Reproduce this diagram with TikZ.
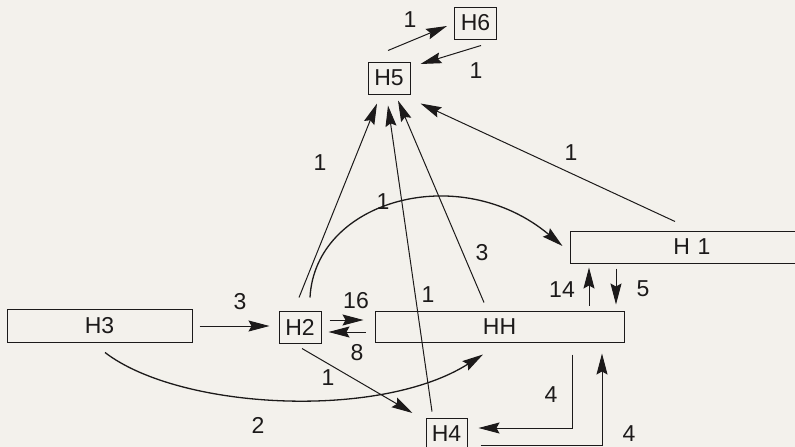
\documentclass[tikz,border=0pt]{standalone}
\usepackage{fontspec}
\setmainfont{Liberation Sans}
\usetikzlibrary{arrows.meta,calc}
\definecolor{paper}{HTML}{F3F1EC}
\definecolor{ink}{HTML}{1C1A1A}
\begin{document}
\begin{tikzpicture}[x=1pt,y=-1pt,
  every node/.style={font=\fontsize{23}{23}\selectfont, text=ink},
  box/.style={draw=ink, line width=1pt, inner sep=0pt, minimum height=32pt},
  smallbox/.style={box, minimum width=42pt},
  link/.style={draw=ink, line width=1pt, -{Stealth[length=21pt,width=11pt,inset=3pt]}},
  curvelink/.style={link, line width=1.3pt},
  lbl/.style={inner sep=0pt}]
  \fill[paper] (0,0) rectangle (795,447);
  \useasboundingbox (0,0) rectangle (795,447);
  \clip (0,0) rectangle (795,447);

  % boxes
  \node[smallbox] (H6) at (475.5,23) {H6};
  \node[smallbox] (H5) at (389,78) {H5};
  \node[box, minimum width=185pt, minimum height=33pt] (H3) at (99.5,325.5) {H3};
  \node[smallbox] (H2) at (300,327) {H2};
  \node[box, minimum width=249pt, minimum height=31pt] (HH) at (499.5,326.5) {HH};
  \node[box, minimum width=244pt] (H1) at (692,247) {H\,\,1};
  \node[smallbox, minimum width=41pt] (H4) at (446.5,434) {H4};

  % H5 <-> H6
  \draw[link] ($(H5.north)+(-1,-11)$) -- ($(H6.west)+(-7,3)$);
  \draw[link] ($(H6.south)+(5.5,6)$) -- ($(H5.east)+(10,-14)$);

  % into H5
  \draw[link] ($(H2.north)+(-1,-13)$) -- ($(H5.south)+(-12,9)$);
  \draw[link] ($(H4.north)+(-14.5,-6)$) -- ($(H5.south)+(-1,11)$);
  \draw[link] ($(HH.north)+(-15.5,-8)$) -- ($(H5.south)+(9,6)$);
  \draw[link] ($(H1.north)+(-17,-9)$) -- ($(H5.south east)+(10,9)$);

  % H2 -> H1
  \draw[curvelink] ($(H2.north)+(10,-13)$) .. controls (315,200) and (460,160) .. ($(H1.west)+(-7,-1)$);

  % H3 -> H2, H2 <-> HH
  \draw[link] ($(H3.east)+(7,0.5)$) -- ($(H2.west)+(-9,-1)$);
  \draw[link] ($(H2.east)+(8,-7)$) -- ($(HH.west)+(-11,-6.5)$);
  \draw[link] ($(HH.west)+(-9,5.5)$) -- ($(H2.east)+(7,5)$);

  % HH <-> H1
  \draw[link] ($(HH.north)+(89.5,-5)$) -- ($(H1.south)+(-103,4)$);
  \draw[link] ($(H1.south)+(-76,5)$) -- ($(HH.north)+(116.5,-6)$);

  % H3 -> HH
  \draw[curvelink] ($(H3.south)+(5.5,10)$) .. controls (180,410) and (380,420) .. ($(HH.south)+(-16.5,12)$);

  % H2 -> H4
  \draw[link] ($(H2.south)+(2,5)$) -- ($(H4.west)+(-13,-21)$);

  % HH <-> H4
  \draw[link] ($(HH.south)+(72.5,12)$) |- ($(H4.east)+(11,-6)$);
  \draw[link] ($(H4.east)+(13,11)$) -| ($(HH.south)+(102.5,11)$);

  % weights
  \node[lbl] (w56) at (410,20) {1};
  \node[lbl] (w65) at (476,71) {1};
  \node[lbl] (w25) at (320,163) {1};
  \node[lbl] (w21) at (383,202) {1};
  \node[lbl] (wH5) at (482,253) {3};
  \node[lbl] (w45) at (428,295) {1};
  \node[lbl] (w15) at (571,153) {1};
  \node[lbl] (w32) at (240,302) {3};
  \node[lbl] (w2H) at (356,301) {16};
  \node[lbl] (wH2) at (357,353) {8};
  \node[lbl] (wH1) at (562,290) {14};
  \node[lbl] (w1H) at (643,289) {5};
  \node[lbl] (w24) at (328,378) {1};
  \node[lbl] (w3H) at (258,425) {2};
  \node[lbl] (wH4) at (551,395) {4};
  \node[lbl] (w4H) at (629,434) {4};
\end{tikzpicture}
\end{document}
